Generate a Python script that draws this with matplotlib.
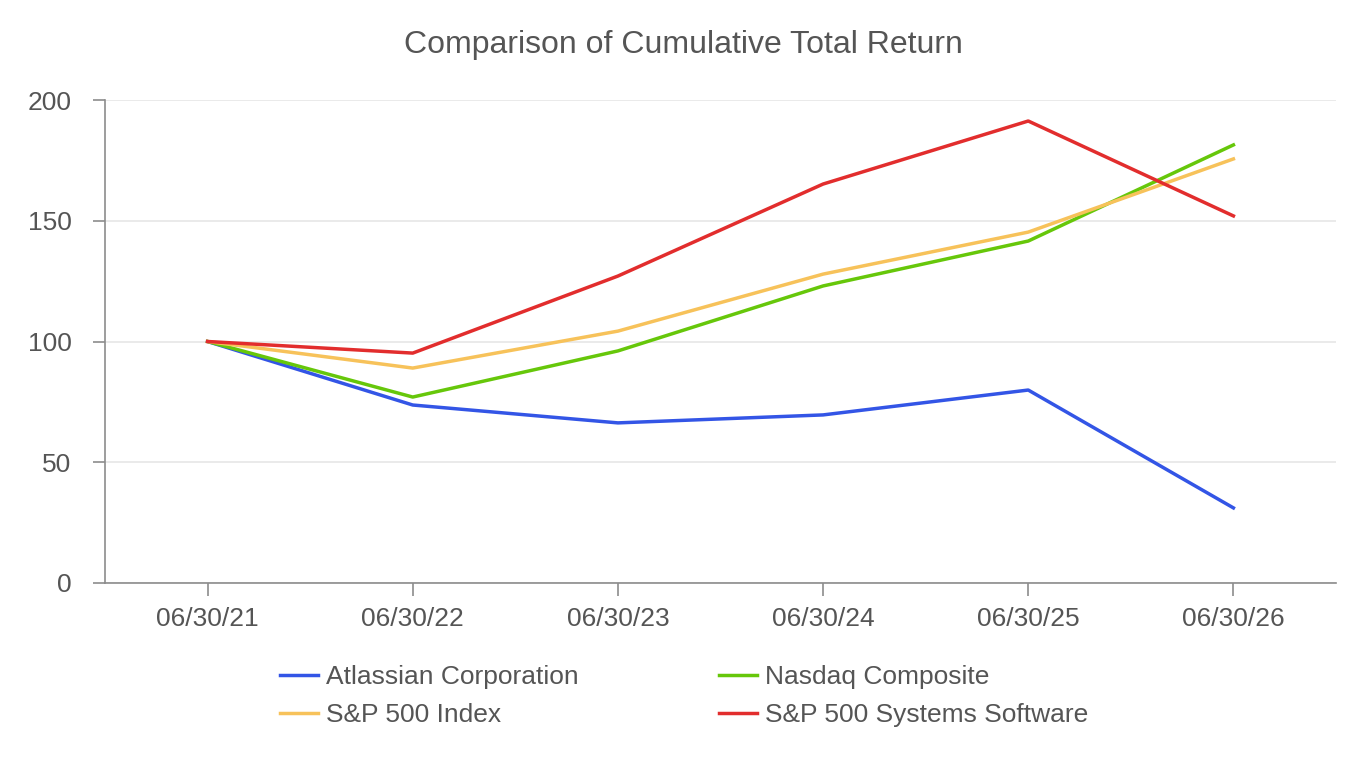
import numpy as np
import matplotlib.pyplot as plt

plt.rcParams['font.family'] = ['Liberation Sans', 'DejaVu Sans']

dates = ['06/30/21', '06/30/22', '06/30/23', '06/30/24', '06/30/25', '06/30/26']
atlassian = [100, 73.7, 66.3, 69.6, 79.9, 31.1]
nasdaq = [100, 77.0, 96.1, 123.0, 141.6, 181.4]
sp500 = [100, 89.0, 104.3, 127.9, 145.3, 175.6]
sys_soft = [100, 95.2, 127.1, 165.2, 191.3, 152.0]

txt = '#555555'
fig = plt.figure(figsize=(13.66, 7.62), dpi=100)
ax = fig.add_axes([105 / 1366, 1 - 583 / 762, 1231 / 1366, 483 / 762])

x = np.arange(len(dates))
l1, = ax.plot(x, atlassian, color='#3355e6', lw=2.5, label='Atlassian Corporation')
l2, = ax.plot(x, nasdaq, color='#66c70a', lw=2.5, label='Nasdaq Composite')
l3, = ax.plot(x, sp500, color='#f7c25a', lw=2.5, label='S&P 500 Index')
l4, = ax.plot(x, sys_soft, color='#e22d2d', lw=2.5, label='S&P 500 Systems Software')

ax.set_xlim(-0.5, 5.5)
ax.set_ylim(0, 200)
ax.set_xticks(x)
ax.set_xticklabels(dates)
ax.set_yticks([0, 50, 100, 150, 200])
ax.grid(axis='y', color='#e6e6e6', lw=1.2)
ax.set_axisbelow(True)
for s in ['top', 'right']:
    ax.spines[s].set_visible(False)
for s in ['left', 'bottom']:
    ax.spines[s].set_color('#8c8c8c')
    ax.spines[s].set_linewidth(1.2)
ax.tick_params(axis='both', colors='#8c8c8c', labelcolor=txt, labelsize=19, length=9, width=1.2)
ax.tick_params(axis='x', pad=8)
ax.tick_params(axis='y', pad=15)

fig.text(0.5, 1 - 45 / 762, 'Comparison of Cumulative Total Return', ha='center', va='center',
         fontsize=23, color=txt)

leg = fig.legend([l1, l3, l2, l4], [h.get_label() for h in [l1, l3, l2, l4]],
                 ncol=2, loc='center left', bbox_to_anchor=(280 / 1366, 1 - 696 / 762),
                 frameon=False, fontsize=19, handlelength=1.45, handletextpad=0.3,
                 columnspacing=5.3, labelspacing=0.55, labelcolor=txt,
                 borderpad=0, borderaxespad=0)

fig.savefig('out.png', dpi=100)
